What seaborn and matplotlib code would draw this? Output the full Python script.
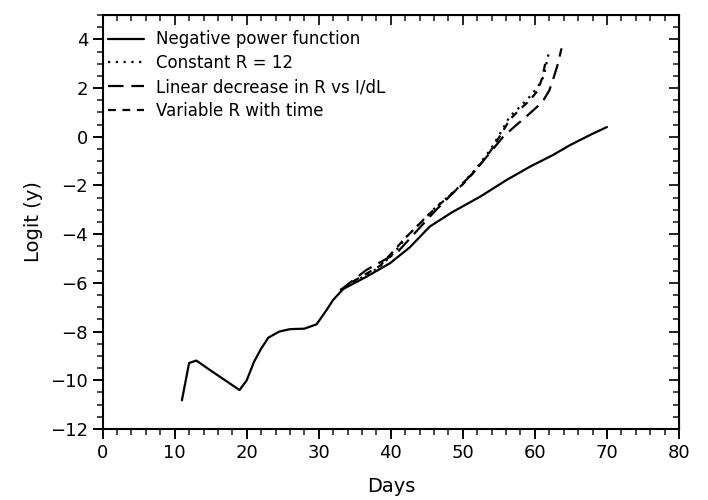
import numpy as np
import pandas as pd
import seaborn as sns
import matplotlib.pyplot as plt
from matplotlib.ticker import MultipleLocator, NullFormatter

# values
npf_days = [11, 12, 13, 15, 17, 19, 20, 21, 22, 23, 24.5, 26, 28, 29.7, 31, 32,
            33.4, 36.6, 39.9, 42.6, 45.4, 48.5, 52.4, 56.1, 59.3, 62.5, 64.9, 67.5, 70]
npf_logit = [-10.82, -9.29, -9.19, -9.6, -10.0, -10.4, -10.0, -9.25, -8.7, -8.25, -8.0, -7.9,
             -7.88, -7.7, -7.15, -6.7, -6.25, -5.75, -5.19, -4.55, -3.69, -3.1, -2.46,
             -1.77, -1.23, -0.75, -0.34, 0.05, 0.4]

constR_days = [33, 34.3, 36.5, 38.5, 40.5, 42.2, 44.2, 46.3, 48.2, 50.0, 52.0, 53.8,
               55.2, 56.5, 58.0, 59.3, 60.4, 61.2, 61.9]
constR_logit = [-6.3, -6.02, -5.7, -5.33, -4.75, -4.10, -3.5, -2.87, -2.4, -1.91, -1.25,
                -0.54, 0.15, 0.83, 1.25, 1.65, 2.05, 2.47, 3.4]

linR_days = [33, 36.6, 40.8, 43.5, 46.3, 49.0, 51.4, 53.5, 55.6, 57.3, 58.8, 60.2,
             61.2, 62.0, 62.5, 63.1, 63.7]
linR_logit = [-6.3, -5.47, -4.78, -3.9, -3.0, -2.2, -1.50, -0.75, 0.0, 0.45, 0.83, 1.2,
              1.51, 1.9, 2.33, 2.9, 3.63]

varR_days = [33, 35, 38.5, 42.2, 46.3, 50.0, 52.0, 53.8, 55.2, 56.5, 58.0, 59.3, 60.4,
             61.0, 61.5]
varR_logit = [-6.3, -5.9, -5.3, -4.1, -2.9, -1.95, -1.3, -0.6, 0.05, 0.7, 1.15, 1.5,
              1.9, 2.4, 3.1]

labels = ['Negative power function', 'Constant R = 12',
          'Linear decrease in R vs I/dL', 'Variable R with time']

sns.set_style('ticks')
plt.rcParams['font.family'] = ['DejaVu Sans']
plt.rcParams['text.color'] = 'black'
plt.rcParams['axes.labelcolor'] = 'black'

fig = plt.figure(figsize=(7.08, 5.0), dpi=100)
ax = fig.add_axes([0.145, 0.142, 0.814, 0.828])

series = [(npf_days, npf_logit, '-'),
          (constR_days, constR_logit, (0, (1, 2.5))),
          (linR_days, linR_logit, (0, (7, 3.5))),
          (varR_days, varR_logit, (0, (3.5, 3)))]
for (d, v, ls), lab in zip(series, labels):
    df = pd.DataFrame({'Days': d, 'Logit': v})
    sns.lineplot(data=df, x='Days', y='Logit', ax=ax, color='black', lw=1.6,
                 linestyle=ls, label=lab, sort=False)

ax.set_xlim(0, 80)
ax.set_ylim(-12, 5)
ax.xaxis.set_major_locator(MultipleLocator(10))
ax.xaxis.set_minor_locator(MultipleLocator(2))
ax.yaxis.set_major_locator(MultipleLocator(2))
ax.yaxis.set_minor_locator(MultipleLocator(0.5))
ax.tick_params(which='major', direction='out', length=7, width=1.4, labelsize=13,
               colors='black')
ax.tick_params(which='minor', direction='out', length=4, width=1.2)
for s in ax.spines.values():
    s.set_linewidth(1.5)
    s.set_color('black')

# top and right axes with inward ticks
top = ax.secondary_xaxis('top')
top.xaxis.set_major_locator(MultipleLocator(10))
top.xaxis.set_minor_locator(MultipleLocator(2))
top.xaxis.set_major_formatter(NullFormatter())
top.tick_params(which='major', direction='in', length=7, width=1.4)
top.tick_params(which='minor', direction='in', length=4, width=1.2)
right = ax.secondary_yaxis('right')
right.yaxis.set_major_locator(MultipleLocator(2))
right.yaxis.set_minor_locator(MultipleLocator(0.5))
right.yaxis.set_major_formatter(NullFormatter())
right.tick_params(which='major', direction='in', length=7, width=1.4)
right.tick_params(which='minor', direction='in', length=4, width=1.2)

ax.set_xlabel('Days', fontsize=14, labelpad=11)
ax.set_ylabel('Logit (y)', fontsize=14, labelpad=5)

ax.legend(loc='upper left', bbox_to_anchor=(0.0, 0.975), frameon=False, fontsize=12,
          handlelength=2.2, labelspacing=0.35, borderaxespad=0, borderpad=0.3,
          handletextpad=0.7)

fig.savefig('out.png', dpi=100)
